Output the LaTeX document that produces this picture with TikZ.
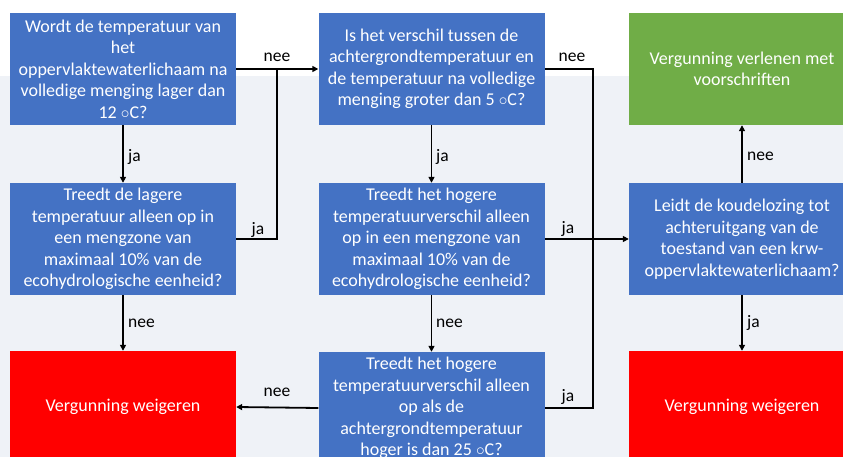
\documentclass[tikz,border=0pt]{standalone}
\usepackage{fontspec}
\setmainfont{Carlito}
\usetikzlibrary{arrows.meta}
\definecolor{boxblue}{HTML}{4472C4}
\definecolor{boxgreen}{HTML}{70AD47}
\definecolor{boxred}{HTML}{FF0000}
\definecolor{bggray}{HTML}{EFF2F7}
\tikzset{
  base/.style={minimum width=226pt, minimum height=112pt, inner sep=0pt, text=white, align=center, font=\fontsize{18}{21.5}\selectfont},
  qbox/.style={base, fill=boxblue},
  okbox/.style={base, fill=boxgreen},
  nobox/.style={base, fill=boxred},
  conn/.style={line width=1.8pt, draw=black},
  arr/.style={conn, -{Triangle[length=6pt,width=6pt]}},
  lbl/.style={font=\fontsize{17.5}{20}\selectfont, text=black, inner sep=0pt}
}
\begin{document}
\begin{tikzpicture}[x=1pt,y=-1pt]
\useasboundingbox (0,0) rectangle (843,457);
\begin{scope}
\clip (0,0) rectangle (843,457);
\fill[white] (0,0) rectangle (843,457);
\fill[bggray] (0,76) rectangle (843,457);
\node[qbox] (A) at (123,69) {Wordt de temperatuur van\\het\\oppervlaktewaterlichaam na\\volledige menging lager dan\\12 $\circ$C?};
\node[qbox] (B) at (431.5,69) {Is het verschil tussen de\\achtergrondtemperatuur en\\de temperatuur na volledige\\menging groter dan 5 $\circ$C?};
\node[okbox] (C) at (742,69) {Vergunning verlenen met\\voorschriften};
\node[qbox] (D) at (123,239) {Treedt de lagere\\temperatuur alleen op in\\een mengzone van\\maximaal 10\% van de\\ecohydrologische eenheid?};
\node[qbox] (E) at (431.5,239) {Treedt het hogere\\temperatuurverschil alleen\\op in een mengzone van\\maximaal 10\% van de\\ecohydrologische eenheid?};
\node[qbox] (F) at (742,239) {Leidt de koudelozing tot\\achteruitgang van de\\toestand van een krw-\\oppervlaktewaterlichaam?};
\node[nobox] (R1) at (123,407) {Vergunning weigeren};
\node[qbox] (G) at (431.5,408) {Treedt het hogere\\temperatuurverschil alleen\\op als de\\achtergrondtemperatuur\\hoger is dan 25 $\circ$C?};
\node[nobox] (R2) at (742,407) {Vergunning weigeren};

\coordinate (j1) at (277,69);
\coordinate (j2) at (593,69);

% connectors
\draw[arr] (A.east) -- (B.west);
\draw[conn] (D.east) -| (j1);
\draw[conn] (B.east) -- (j2) |- (G.east);
\draw[arr] (E.east) -- (F.west);
\draw[arr] (A.south) -- (D.north);
\draw[arr] (B.south) -- (E.north);
\draw[arr] (D.south) -- (R1.north);
\draw[arr] (E.south) -- (G.north);
\draw[arr] (G.west) -- (R1.east);
\draw[arr] (F.north) -- (C.south);
\draw[arr] (F.south) -- (R2.north);

% labels
\node[lbl] (l1) at (277,57) {nee};
\node[lbl] (l2) at (572,57) {nee};
\node[lbl] (l3) at (258,230) {ja};
\node[lbl] (l4) at (568,229) {ja};
\node[lbl] (l5) at (568,397) {ja};
\node[lbl] (l6) at (277,392) {nee};
\node[lbl, anchor=west] (l7) at (128,157) {ja};
\node[lbl, anchor=west] (l8) at (436,157) {ja};
\node[lbl, anchor=west] (l9) at (128,323) {nee};
\node[lbl, anchor=west] (l10) at (436,323) {nee};
\node[lbl, anchor=west] (l11) at (747,156) {nee};
\node[lbl, anchor=west] (l12) at (747,323) {ja};
\end{scope}
\end{tikzpicture}
\end{document}
